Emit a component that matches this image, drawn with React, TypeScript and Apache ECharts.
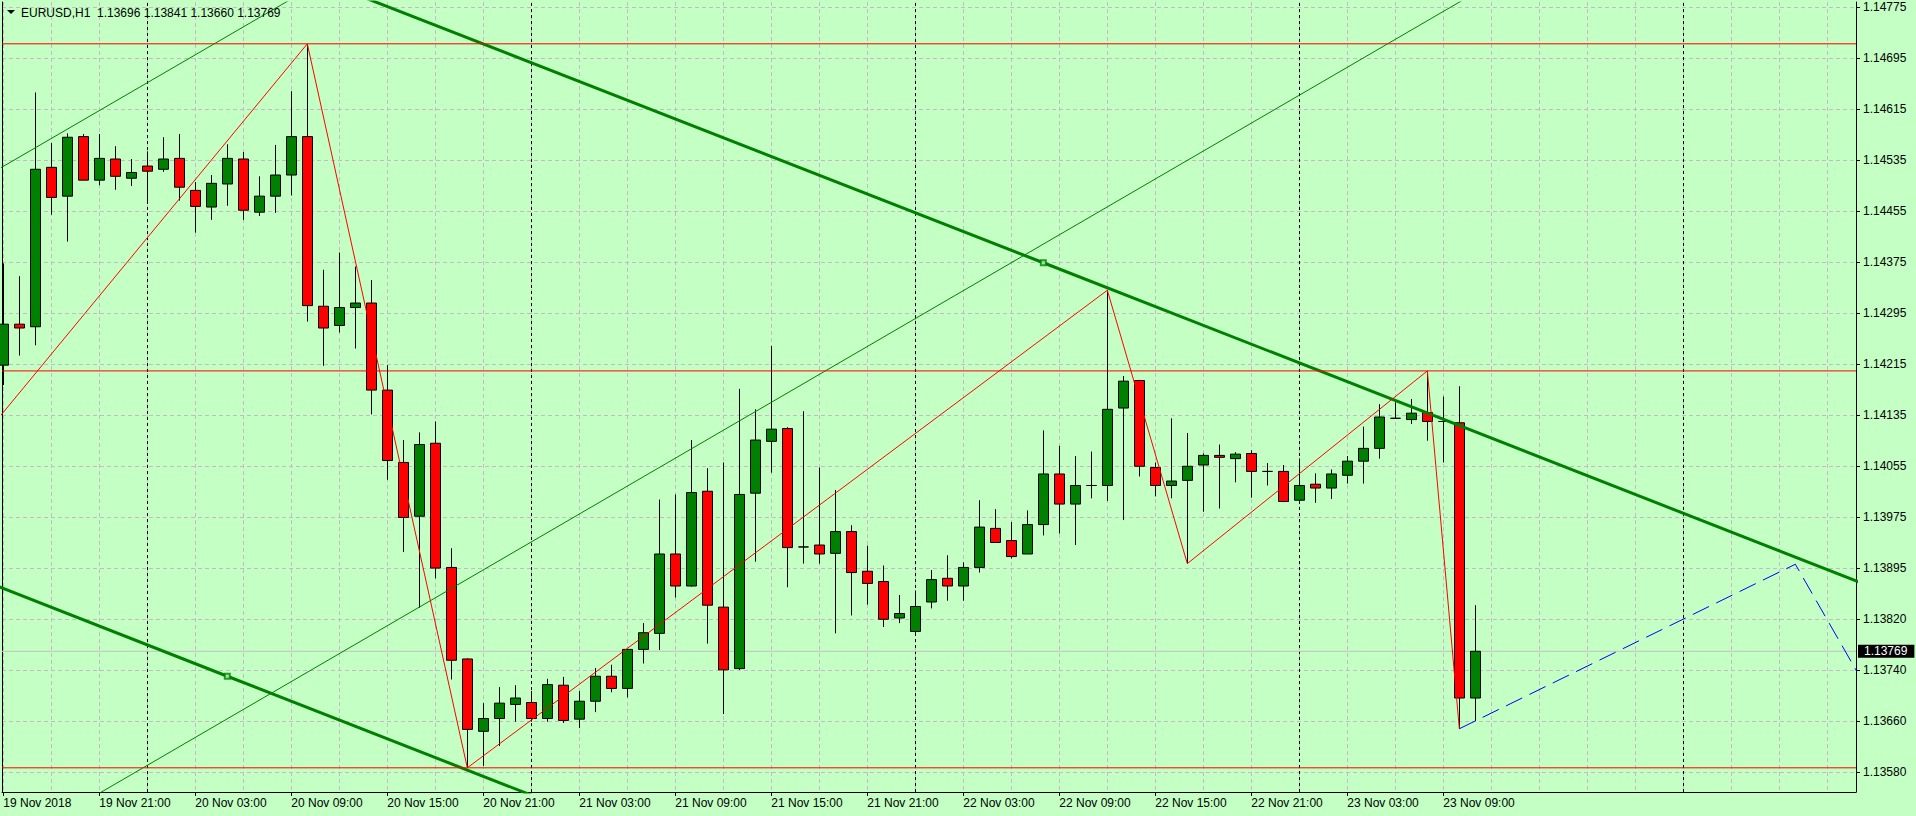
import React, { useEffect, useRef } from 'react';
import * as echarts from 'echarts';

const BG = '#c4ffc4';
const GRID = '#c6b8c8';
const FONT = '"Liberation Sans", Arial, sans-serif';

const symbol = 'EURUSD';
const timeframe = 'H1';

// Hourly candles, index 0 = 19 Nov 2018 15:00
const opens = [
  1.14216, 1.14280, 1.14276, 1.14525, 1.14480, 1.14573, 1.14505, 1.14538, 1.14508, 1.14527,
  1.14522, 1.14539, 1.14489, 1.14463, 1.14499, 1.14538, 1.14455, 1.14480, 1.14513, 1.14573,
  1.14308, 1.14278, 1.14306, 1.14313, 1.14177, 1.14064, 1.13980, 1.14094, 1.13900, 1.13757,
  1.13644, 1.13664, 1.13686, 1.13689, 1.13664, 1.13716, 1.13663, 1.13691, 1.13730, 1.13711,
  1.13772, 1.13797, 1.13921, 1.13871, 1.14019, 1.13838, 1.13742, 1.14016, 1.14097, 1.14117,
  1.13932, 1.13935, 1.13922, 1.13956, 1.13894, 1.13878, 1.13821, 1.13800, 1.13846, 1.13883,
  1.13871, 1.13900, 1.13961, 1.13942, 1.13921, 1.13967, 1.14046, 1.13999, 1.14028, 1.14028,
  1.14149, 1.14192, 1.14056, 1.14028, 1.14036, 1.14060, 1.14075, 1.14070, 1.14078, 1.14050,
  1.14050, 1.14005, 1.14030, 1.14024, 1.14044, 1.14066, 1.14086, 1.14133, 1.14131, 1.14142,
  1.14128, 1.14126, 1.13696,
];
const closes = [
  1.14280, 1.14274, 1.14522, 1.14478, 1.14572, 1.14505, 1.14539, 1.14511, 1.14517, 1.14519,
  1.14538, 1.14494, 1.14464, 1.14500, 1.14539, 1.14458, 1.14480, 1.14513, 1.14573, 1.14309,
  1.14274, 1.14306, 1.14313, 1.14177, 1.14067, 1.13978, 1.14092, 1.13899, 1.13755, 1.13647,
  1.13664, 1.13688, 1.13696, 1.13664, 1.13717, 1.13661, 1.13691, 1.13730, 1.13711, 1.13772,
  1.13798, 1.13921, 1.13871, 1.14017, 1.13841, 1.13740, 1.14014, 1.14099, 1.14116, 1.13931,
  1.13932, 1.13921, 1.13956, 1.13892, 1.13875, 1.13819, 1.13828, 1.13839, 1.13881, 1.13871,
  1.13900, 1.13963, 1.13939, 1.13917, 1.13967, 1.14046, 1.13999, 1.14028, 1.14028, 1.14147,
  1.14191, 1.14058, 1.14028, 1.14035, 1.14058, 1.14075, 1.14072, 1.14077, 1.14050, 1.14050,
  1.14003, 1.14028, 1.14024, 1.14046, 1.14066, 1.14086, 1.14135, 1.14133, 1.14141, 1.14128,
  1.14128, 1.13696, 1.13769,
];
const lows = [
  1.14185, 1.14231, 1.14247, 1.14451, 1.14409, 1.14505, 1.14497, 1.14490, 1.14496, 1.14470,
  1.14518, 1.14473, 1.14423, 1.14443, 1.14465, 1.14443, 1.14449, 1.14454, 1.14481, 1.14284,
  1.14215, 1.14267, 1.14242, 1.14139, 1.14037, 1.13924, 1.13837, 1.13883, 1.13725, 1.13587,
  1.13590, 1.13621, 1.13659, 1.13659, 1.13659, 1.13657, 1.13649, 1.13674, 1.13705, 1.13697,
  1.13750, 1.13771, 1.13853, 1.13870, 1.13781, 1.13671, 1.13740, 1.13909, 1.14048, 1.13869,
  1.13906, 1.13906, 1.13797, 1.13825, 1.13842, 1.13807, 1.13813, 1.13797, 1.13836, 1.13848,
  1.13848, 1.13892, 1.13939, 1.13914, 1.13921, 1.13950, 1.13953, 1.13935, 1.14008, 1.14004,
  1.13974, 1.14042, 1.14011, 1.14008, 1.13906, 1.13987, 1.13992, 1.14033, 1.14009, 1.14028,
  1.14002, 1.13999, 1.14001, 1.14007, 1.14031, 1.14031, 1.14070, 1.14132, 1.14124, 1.14098,
  1.14064, 1.13648, 1.13660,
];
const highs = [
  1.14375, 1.14355, 1.14642, 1.14563, 1.14578, 1.14577, 1.14577, 1.14558, 1.14538, 1.14550,
  1.14572, 1.14577, 1.14502, 1.14513, 1.14561, 1.14549, 1.14511, 1.14560, 1.14644, 1.14718,
  1.14365, 1.14392, 1.14370, 1.14349, 1.14216, 1.14099, 1.14111, 1.14128, 1.13930, 1.13758,
  1.13688, 1.13713, 1.13716, 1.13707, 1.13726, 1.13729, 1.13707, 1.13743, 1.13748, 1.13772,
  1.13813, 1.14006, 1.14014, 1.14099, 1.14055, 1.14064, 1.14179, 1.14147, 1.14246, 1.14119,
  1.14144, 1.14056, 1.14021, 1.13966, 1.13934, 1.13903, 1.13857, 1.13864, 1.13896, 1.13919,
  1.13908, 1.14005, 1.13991, 1.13971, 1.13989, 1.14114, 1.14090, 1.14074, 1.14081, 1.14333,
  1.14199, 1.14193, 1.14064, 1.14133, 1.14110, 1.14078, 1.14092, 1.14080, 1.14083, 1.14063,
  1.14060, 1.14070, 1.14047, 1.14053, 1.14074, 1.14120, 1.14155, 1.14158, 1.14163, 1.14207,
  1.14167, 1.14183, 1.13841,
];

// Time axis labels (bar index -> label)
const xLabelIdx = [0, 6, 12, 18, 24, 30, 36, 42, 48, 54, 60, 66, 72, 78, 84, 90];
const xLabels = [
  '19 Nov 2018', '19 Nov 21:00', '20 Nov 03:00', '20 Nov 09:00', '20 Nov 15:00', '20 Nov 21:00',
  '21 Nov 03:00', '21 Nov 09:00', '21 Nov 15:00', '21 Nov 21:00', '22 Nov 03:00', '22 Nov 09:00',
  '22 Nov 15:00', '22 Nov 21:00', '23 Nov 03:00', '23 Nov 09:00',
];
const xGridIdx = [
  0, 3, 6, 9, 12, 15, 18, 21, 24, 27, 30, 33, 36, 39, 42, 45, 48, 51, 54, 57, 60, 63, 66, 69,
  72, 75, 78, 81, 84, 87, 90, 93, 96, 99, 102, 105, 108, 111, 114,
];
const daySeparators = [9, 33, 57, 81, 105];

// Price axis
const yGridVals = [
  1.13580, 1.136597, 1.137393, 1.13819, 1.138987, 1.139783, 1.14058, 1.141377,
  1.142173, 1.14297, 1.143767, 1.144563, 1.14536, 1.146157, 1.146953, 1.14775,
];
const yLabels = [
  '1.13580', '1.13660', '1.13740', '1.13820', '1.13895', '1.13975', '1.14055', '1.14135',
  '1.14215', '1.14295', '1.14375', '1.14455', '1.14535', '1.14615', '1.14695', '1.14775',
];
const X_MIN = -0.08125;
const X_MAX = 115.79;
const Y_MIN = 1.135492;
const Y_MAX = 1.147833;

// Objects
const zigzag = [[-1, 1.14112], [19, 1.14718], [29, 1.13587], [69, 1.14333], [74, 1.13906], [89, 1.14207], [91, 1.13648]];
const projection = [[91, 1.13648], [112, 1.13905], [117, 1.13687]];
const levels = [1.14718, 1.14207, 1.13587];
const downChannelUpper = [[19, 1.14825], [65, 1.14376], [116, 1.13877]];
const downChannelLower = [[-1, 1.13877], [14, 1.13730], [36, 1.13515]];
const downChannelAnchors = [[65, 1.14376], [14, 1.13730]];
const upChannelLower = [[0, 1.13460], [100, 1.14914]];
const upChannelUpper = [[-1, 1.14512], [20, 1.14817]];

const last = opens.length - 1;
const bid = closes[last];

function buildOption() {
  const candleData = opens.map((o, i) => [i, o, closes[i], lows[i], highs[i]]);
  const titleText = `${symbol},${timeframe}  ${opens[last].toFixed(5)} ${highs[last].toFixed(5)} ${lows[last].toFixed(5)} ${closes[last].toFixed(5)}`;
  const yFmt = (v: number) => {
    let best = 0;
    for (let i = 1; i < yGridVals.length; i++) {
      if (Math.abs(yGridVals[i] - v) < Math.abs(yGridVals[best] - v)) best = i;
    }
    return yLabels[best];
  };
  const xFmt = (v: number) => {
    const k = xLabelIdx.indexOf(Math.round(v));
    return k >= 0 ? xLabels[k] : '';
  };
  const lineSeries = (data: number[][], color: string, width: number, z: number, type: any = 'solid') => ({
    type: 'line',
    data,
    symbol: 'none',
    silent: true,
    clip: true,
    z,
    lineStyle: { color, width, type },
    emphasis: { disabled: true },
  });
  const hLine = (v: number) => [[X_MIN, v], [X_MAX, v]];

  return {
    animation: false,
    backgroundColor: BG,
    textStyle: { fontFamily: FONT },
    title: {
      text: titleText,
      left: 21,
      top: 6,
      padding: 0,
      textStyle: { fontSize: 12, fontWeight: 'normal', color: '#000', fontFamily: FONT, lineHeight: 14 },
    },
    graphic: [
      { type: 'polygon', shape: { points: [[7, 10], [15, 10], [11, 14]] }, style: { fill: '#000' }, z: 100 },
    ],
    grid: { left: 2, right: 60, top: 2, bottom: 24, containLabel: false, outerBoundsMode: 'none' },
    xAxis: [
      {
        type: 'value',
        min: X_MIN,
        max: X_MAX,
        position: 'bottom',
        axisLine: { show: true, onZero: false, lineStyle: { color: '#000', width: 1 } },
        axisTick: { show: true, customValues: xLabelIdx, length: 4, lineStyle: { color: '#000' } },
        axisLabel: {
          show: true,
          customValues: xLabelIdx,
          formatter: xFmt,
          align: 'left',
          margin: 5,
          color: '#000',
          fontSize: 12,
          fontFamily: FONT,
        },
        splitLine: { show: false },
      },
      {
        type: 'value',
        min: X_MIN,
        max: X_MAX,
        position: 'bottom',
        axisLine: { show: false },
        axisLabel: { show: false },
        axisTick: { show: false, customValues: xGridIdx },
        splitLine: { show: true, lineStyle: { color: GRID, type: [4, 3], width: 1 } },
      },
    ],
    yAxis: [
      {
        type: 'value',
        min: Y_MIN,
        max: Y_MAX,
        position: 'right',
        axisLine: { show: true, onZero: false, lineStyle: { color: '#000', width: 1 } },
        axisTick: { show: true, customValues: yGridVals, length: 4, lineStyle: { color: '#000' } },
        axisLabel: {
          show: true,
          customValues: yGridVals,
          formatter: yFmt,
          align: 'left',
          margin: 7,
          color: '#000',
          fontSize: 12,
          fontFamily: FONT,
        },
        splitLine: { show: true, lineStyle: { color: GRID, type: [4, 3], width: 1 } },
      },
      {
        type: 'value',
        min: Y_MIN,
        max: Y_MAX,
        position: 'left',
        axisLine: { show: true, onZero: false, lineStyle: { color: '#000', width: 1 } },
        axisTick: { show: false },
        axisLabel: { show: false },
        splitLine: { show: false },
      },
    ],
    series: [
      {
        ...lineSeries(hLine(bid), '#c0c0c0', 1, 1),
        endLabel: {
          show: true,
          distance: 2,
          formatter: bid.toFixed(5),
          color: '#fff',
          backgroundColor: '#000',
          padding: [1, 7, 0, 6],
          fontSize: 12,
          lineHeight: 12,
          fontFamily: FONT,
        },
      },
      {
        type: 'candlestick',
        data: candleData,
        encode: { x: 0, y: [1, 2, 3, 4] },
        barWidth: 10,
        z: 2,
        silent: true,
        clip: true,
        itemStyle: {
          color: '#008000',
          color0: '#ff0000',
          borderColor: '#000',
          borderColor0: '#000',
          borderColorDoji: '#000',
          borderWidth: 1,
        },
        emphasis: { disabled: true },
        markLine: {
          silent: true,
          symbol: 'none',
          z: 1,
          animation: false,
          label: { show: false },
          lineStyle: { color: '#000', type: [3, 3], width: 1 },
          data: daySeparators.map((d) => ({ xAxis: d })),
        },
      },
      ...levels.map((v) => lineSeries(hLine(v), '#ff0000', 1, 5)),
      lineSeries(zigzag, '#ff0000', 1, 5),
      lineSeries(projection, '#0000ff', 1, 5, [18, 8]),
      lineSeries(downChannelUpper, '#008000', 3, 4),
      lineSeries(downChannelLower, '#008000', 3, 4),
      lineSeries(upChannelLower, '#008000', 1, 4),
      lineSeries(upChannelUpper, '#008000', 1, 4),
      {
        type: 'scatter',
        data: downChannelAnchors,
        symbol: 'rect',
        symbolSize: 5,
        silent: true,
        z: 6,
        itemStyle: { color: BG, borderColor: '#008000', borderWidth: 2 },
      },
    ],
  };
}

export default function App() {
  const ref = useRef<HTMLDivElement>(null);
  useEffect(() => {
    if (!ref.current) return;
    const chart = echarts.init(ref.current, null, { renderer: 'svg' });
    chart.setOption(buildOption() as any);
    return () => chart.dispose();
  }, []);
  return (
    <div
      ref={ref}
      style={{ position: 'absolute', left: 0, top: 0, width: 1916, height: 816, background: BG }}
    />
  );
}
